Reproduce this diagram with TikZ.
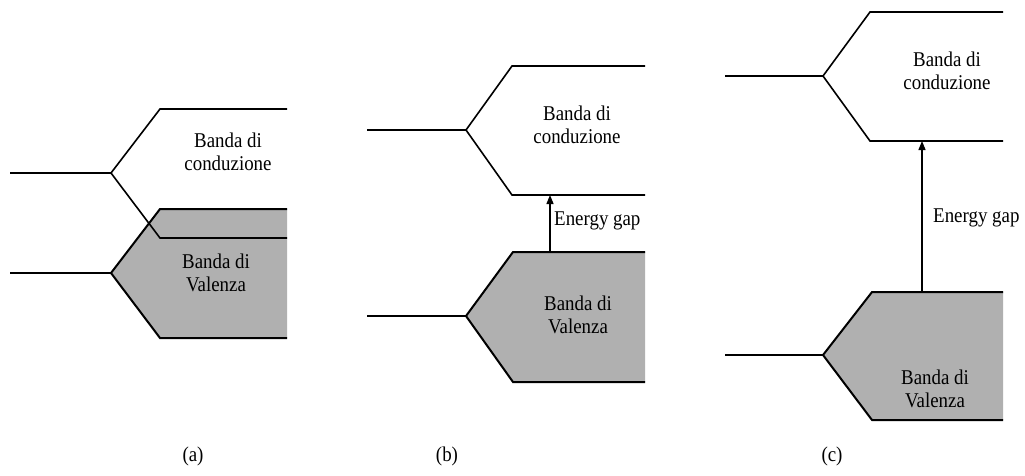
\documentclass[tikz,border=0pt]{standalone}
\usepackage{fontspec}
\setmainfont{Liberation Serif}[FakeStretch=0.9]
\usetikzlibrary{arrows.meta}
\definecolor{valgray}{RGB}{176,176,176}
\tikzset{
  cband/.style={line width=1.6pt, line join=miter},
  vband/.style={line width=2pt, line join=miter},
  vfill/.style={fill=valgray},
  lbl/.style={font=\fontsize{21}{23}\selectfont, align=center, inner sep=0pt},
  caplbl/.style={font=\fontsize{21}{23}\selectfont, inner sep=0pt},
  gaplbl/.style={font=\fontsize{21}{23}\selectfont, inner sep=0pt, anchor=west},
  gaparrow/.style={line width=1.3pt, -{Triangle[length=9pt,width=7pt]}},
}
\begin{document}
\begin{tikzpicture}[x=1pt,y=-1pt]
\useasboundingbox (0,0) rectangle (1025,475);

% ---------- (a) ----------
\fill[vfill] (287,209) -- (160,209) -- (111,273) -- (160,338) -- (287,338) -- cycle;
\draw[vband] (287,209) -- (160,209) -- (111,273) -- (160,338) -- (287,338);
\draw[vband] (10,273) -- (111,273);
\draw[cband] (287,109) -- (160,109) -- (111,173) -- (160,238) -- (287,238);
\draw[cband] (10,173) -- (111,173);
\node[lbl] (ca) at (228,152) {Banda di\\conduzione};
\node[lbl] (va) at (216,273) {Banda di\\Valenza};
\node[caplbl] (pa) at (193,456) {(a)};

% ---------- (b) ----------
\fill[vfill] (645,252) -- (513,252) -- (466,316) -- (513,382) -- (645,382) -- cycle;
\draw[vband] (645,252) -- (513,252) -- (466,316) -- (513,382) -- (645,382);
\draw[vband] (367,316) -- (466,316);
\draw[cband] (645,66) -- (512,66) -- (466,130) -- (512,195) -- (645,195);
\draw[cband] (367,130) -- (466,130);
\coordinate (gbs) at (550,252);
\coordinate (gbe) at (550,195);
\draw[gaparrow] (gbs) -- (gbe);
\node[gaplbl] (gb) at (554,221) {Energy gap};
\node[lbl] (cb) at (577,125) {Banda di\\conduzione};
\node[lbl] (vb) at (578,315) {Banda di\\Valenza};
\node[caplbl] (pb) at (447,456) {(b)};

% ---------- (c) ----------
\fill[vfill] (1003,292) -- (872,292) -- (823,355) -- (872,420) -- (1003,420) -- cycle;
\draw[vband] (1003,292) -- (872,292) -- (823,355) -- (872,420) -- (1003,420);
\draw[vband] (725,355) -- (823,355);
\draw[cband] (1003,12) -- (870,12) -- (823,76) -- (870,141) -- (1003,141);
\draw[cband] (725,76) -- (823,76);
\coordinate (gcs) at (922,292);
\coordinate (gce) at (922,141);
\draw[gaparrow] (gcs) -- (gce);
\node[gaplbl] (gc) at (933,218) {Energy gap};
\node[lbl] (cc) at (947,71) {Banda di\\conduzione};
\node[lbl] (vc) at (935,389) {Banda di\\Valenza};
\node[caplbl] (pc) at (832,456) {(c)};
\end{tikzpicture}
\end{document}
